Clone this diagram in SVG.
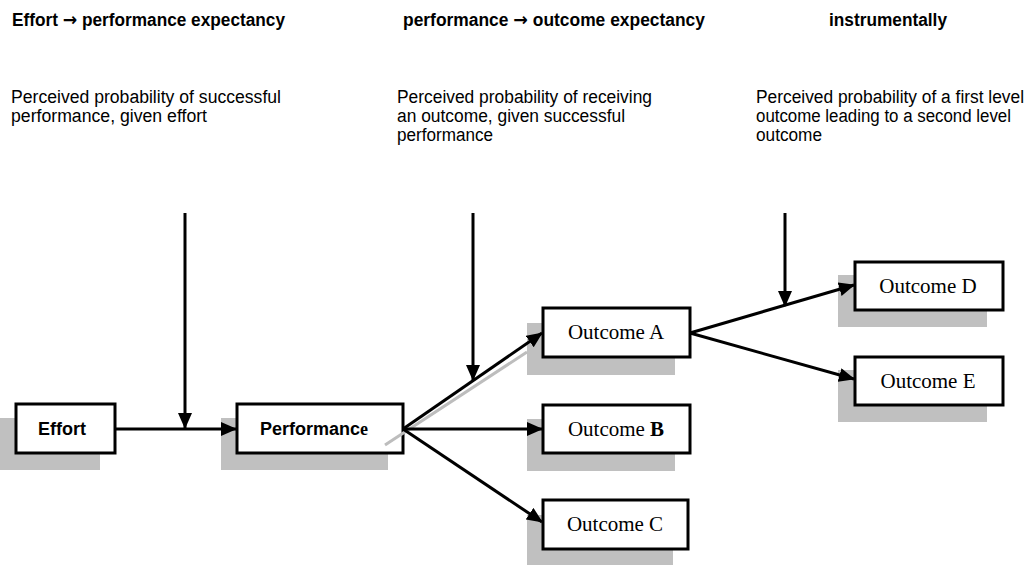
<svg xmlns="http://www.w3.org/2000/svg" width="1036" height="565" viewBox="0 0 1036 565">
<defs>
<marker id="ah" markerUnits="userSpaceOnUse" markerWidth="16" markerHeight="14" refX="15" refY="7" orient="auto">
<path d="M0,0 L16,7 L0,14 Z" fill="#000"/>
</marker>
<style>
.head{font-family:"Liberation Sans",Arial,sans-serif;font-weight:bold;font-size:18px;fill:#000}
.arr{font-family:"DejaVu Sans",sans-serif;font-weight:bold}
.para{font-family:"Liberation Sans",Arial,sans-serif;font-size:18px;fill:#000}
.box{fill:#fff;stroke:#000;stroke-width:3}
.shadow{fill:#c0c0c0}
.sans{font-family:"Liberation Sans",Arial,sans-serif;font-weight:bold;font-size:18px;fill:#000}
.serif{font-family:"Liberation Serif","Times New Roman",serif;font-size:21px;fill:#000}
.c{fill:none;stroke:#000;stroke-width:3}
</style>
</defs>
<rect width="1036" height="565" fill="#fff"/>
<g id="headers">
<text class="head" x="12" y="26" textLength="273" lengthAdjust="spacingAndGlyphs">Effort <tspan class="arr">→</tspan> performance expectancy</text>
<text class="head" x="403" y="26" textLength="302" lengthAdjust="spacingAndGlyphs">performance <tspan class="arr">→</tspan> outcome expectancy</text>
<text class="head" x="829" y="26" textLength="118" lengthAdjust="spacingAndGlyphs">instrumentally</text>
</g>
<g id="desc1">
<text class="para" x="11" y="103" textLength="270" lengthAdjust="spacingAndGlyphs">Perceived probability of successful</text>
<text class="para" x="11" y="122" textLength="196" lengthAdjust="spacingAndGlyphs">performance, given effort</text>
</g>
<g id="desc2">
<text class="para" x="397" y="103" textLength="255" lengthAdjust="spacingAndGlyphs">Perceived probability of receiving</text>
<text class="para" x="397" y="122" textLength="228" lengthAdjust="spacingAndGlyphs">an outcome, given successful</text>
<text class="para" x="397" y="141" textLength="96" lengthAdjust="spacingAndGlyphs">performance</text>
</g>
<g id="desc3">
<text class="para" x="756" y="103" textLength="268" lengthAdjust="spacingAndGlyphs">Perceived probability of a first level</text>
<text class="para" x="756" y="122" textLength="255" lengthAdjust="spacingAndGlyphs">outcome leading to a second level</text>
<text class="para" x="756" y="141" textLength="66" lengthAdjust="spacingAndGlyphs">outcome</text>
</g>
<g id="effort">
<rect class="shadow" x="0" y="418" width="100" height="52"/>
<rect class="box" x="16" y="404" width="99" height="49"/>
<text class="sans" x="62" y="435" text-anchor="middle">Effort</text>
</g>
<g id="performance">
<rect class="shadow" x="221" y="418" width="167" height="52"/>
<rect class="box" x="237" y="404" width="166" height="49"/>
<text class="sans" x="314" y="435" text-anchor="middle">Performanc<tspan font-family="Liberation Serif, serif">e</tspan></text>
</g>
<g id="outcomeA">
<rect class="shadow" x="527" y="323" width="148" height="52"/>
<rect class="box" x="543" y="308" width="147" height="49"/>
<text class="serif" x="616" y="339" text-anchor="middle">Outcome A</text>
</g>
<g id="outcomeB">
<rect class="shadow" x="527" y="419" width="148" height="52"/>
<rect class="box" x="543" y="405" width="147" height="48"/>
<text class="serif" x="616" y="436" text-anchor="middle">Outcome <tspan font-weight="bold">B</tspan></text>
</g>
<g id="outcomeC">
<rect class="shadow" x="527" y="515" width="146" height="50"/>
<rect class="box" x="543" y="500" width="145" height="49"/>
<text class="serif" x="615" y="531" text-anchor="middle">Outcome C</text>
</g>
<g id="outcomeD">
<rect class="shadow" x="838" y="275" width="149" height="52"/>
<rect class="box" x="855" y="262" width="148" height="48"/>
<text class="serif" x="928" y="293" text-anchor="middle">Outcome D</text>
</g>
<g id="outcomeE">
<rect class="shadow" x="838" y="370" width="149" height="52"/>
<rect class="box" x="855" y="357" width="148" height="48"/>
<text class="serif" x="928" y="388" text-anchor="middle">Outcome E</text>
</g>
<g id="connectors">
<line x1="385" y1="445" x2="527" y2="352" stroke="#bdbdbd" stroke-width="3"/>
<line class="c" x1="115" y1="429" x2="236" y2="429" marker-end="url(#ah)"/>
<line class="c" x1="185" y1="213" x2="185" y2="428" marker-end="url(#ah)"/>
<line class="c" x1="403" y1="429" x2="542" y2="333" marker-end="url(#ah)"/>
<line class="c" x1="403" y1="429" x2="542" y2="429" marker-end="url(#ah)"/>
<line class="c" x1="403" y1="429" x2="542" y2="522" marker-end="url(#ah)"/>
<line class="c" x1="473" y1="213" x2="473" y2="380" marker-end="url(#ah)"/>
<line class="c" x1="690" y1="333" x2="854" y2="285" marker-end="url(#ah)"/>
<line class="c" x1="690" y1="333" x2="854" y2="379" marker-end="url(#ah)"/>
<line class="c" x1="785" y1="213" x2="785" y2="306" marker-end="url(#ah)"/>
</g>
</svg>
